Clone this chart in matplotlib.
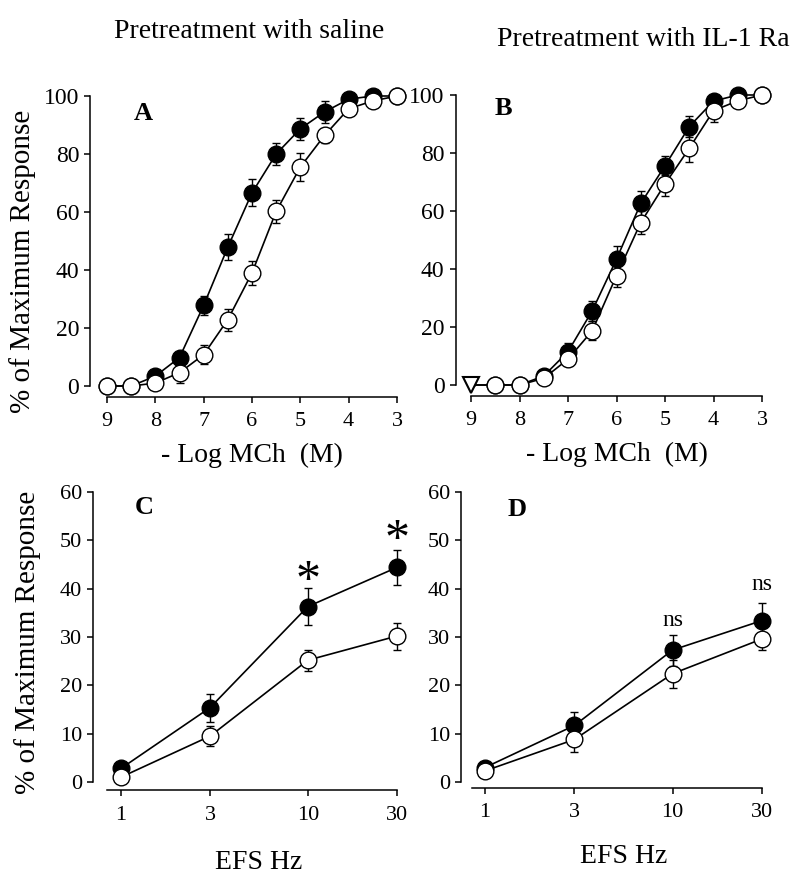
import matplotlib.pyplot as plt

plt.rcParams['font.family'] = ['Liberation Serif', 'DejaVu Serif']

# - log [MCh] (M)
log_mch = [9, 8.5, 8, 7.5, 7, 6.5, 6, 5.5, 5, 4.5, 4, 3.5, 3]

# panel A - saline
a_filled = [0, 0, 3.4, 9.8, 27.8, 47.9, 66.6, 80.0, 88.7, 94.5, 98.9, 100, 100]
a_filled_err = [0, 0, 1.0, 2.0, 3.4, 4.4, 4.7, 3.9, 3.7, 3.7, 1.0, 0.5, 0]
a_open = [0, 0, 1.0, 4.6, 10.8, 22.9, 39.0, 60.2, 75.5, 86.4, 95.6, 98.3, 100]
a_open_err = [0, 0, 1.0, 3.5, 3.3, 3.8, 4.0, 4.0, 4.8, 2.6, 1.5, 1.5, 0]

# panel B - IL-1 Ra
b_filled = [0, 0, 0, 3.1, 11.5, 25.6, 43.4, 62.6, 75.6, 89.1, 97.9, 100, 100]
b_filled_err = [0, 0, 0, 1.0, 2.9, 3.4, 4.5, 4.2, 3.3, 3.7, 1.0, 0.5, 0]
b_open = [0, 0, 0, 2.3, 8.9, 18.7, 37.7, 56.0, 69.3, 81.6, 94.6, 98.0, 100]
b_open_err = [0, 0, 0, 1.0, 2.3, 3.2, 4.0, 3.9, 4.1, 4.6, 3.8, 2.3, 0]
b_tri_x = [9]
b_tri_y = [0]

# EFS frequencies
efs_hz = [1, 3, 10, 30]
efs_labels = ['1', '3', '10', '30']

c_filled = [2.8, 15.4, 36.3, 44.4]
c_filled_err = [0.5, 2.9, 3.9, 3.7]
c_open = [1.0, 9.5, 25.2, 30.2]
c_open_err = [0.4, 2.0, 2.2, 2.8]

d_filled = [3.0, 11.7, 27.3, 33.4]
d_filled_err = [0.5, 2.7, 3.2, 3.6]
d_open = [2.3, 8.8, 22.4, 29.6]
d_open_err = [0.5, 2.6, 2.9, 2.3]

W, H = 800, 881
fig = plt.figure(figsize=(W / 100, H / 100), dpi=100)


def add_axes_px(x0, y0, x1, y1):
    # pixel box -> figure fraction
    return fig.add_axes([x0 / W, 1 - y1 / H, (x1 - x0) / W, (y1 - y0) / H])


def style_axes(ax, left_off, bottom_off, xbounds, ybounds):
    for s in ['top', 'right']:
        ax.spines[s].set_visible(False)
    ax.spines['left'].set_position(('outward', left_off))
    ax.spines['bottom'].set_position(('outward', bottom_off))
    ax.spines['left'].set_bounds(*ybounds)
    ax.spines['bottom'].set_bounds(*xbounds)
    for s in ['left', 'bottom']:
        ax.spines[s].set_linewidth(1.1)
    ax.tick_params(direction='out', length=4, width=1.1, labelsize=16, pad=4)
    ax.tick_params(axis='x', pad=7)
    ax.patch.set_visible(False)


def draw_pair(ax, x, yf, ef, yo, eo, markevery=None):
    kw = dict(color='black', lw=1.2, elinewidth=1.0, capsize=3, capthick=1.0,
              markersize=12, markeredgewidth=1.0, clip_on=False, markevery=markevery)
    ax.errorbar(x, yf, yerr=ef, fmt='-o', markerfacecolor='black', zorder=3, **kw)
    ax.errorbar(x, yo, yerr=eo, fmt='-o', markerfacecolor='white', zorder=4, **kw)


# ---- A
axA = add_axes_px(107, 96, 397, 386)
draw_pair(axA, log_mch, a_filled, a_filled_err, a_open, a_open_err)
axA.set_xlim(9, 3)
axA.set_ylim(0, 100)
axA.set_xticks([9, 8, 7, 6, 5, 4, 3])
axA.set_yticks([0, 20, 40, 60, 80, 100])
style_axes(axA, 12, 8, (9, 3), (0, 100))
axA.tick_params(axis='y', labelsize=17)
axA.set_xlabel('- Log MCh  (M)', fontsize=20, labelpad=8)
axA.text(8.25, 94, 'A', fontsize=19, fontweight='bold', ha='center', va='center')

# ---- B
axB = add_axes_px(471, 95, 762, 385)
draw_pair(axB, log_mch, b_filled, b_filled_err, b_open, b_open_err,
          markevery=slice(1, None))
axB.plot(b_tri_x, b_tri_y, 'v', color='black', markerfacecolor='white',
         markersize=12, markeredgewidth=1.5, clip_on=False, zorder=5)
axB.set_xlim(9, 3)
axB.set_ylim(0, 100)
axB.set_xticks([9, 8, 7, 6, 5, 4, 3])
axB.set_yticks([0, 20, 40, 60, 80, 100])
style_axes(axB, 11, 8, (9, 3), (0, 100))
axB.tick_params(axis='y', labelsize=17)
axB.set_xlabel('- Log MCh  (M)', fontsize=20, labelpad=8)
axB.text(8.34, 95.5, 'B', fontsize=19, fontweight='bold', ha='center', va='center')

# ---- C
axC = add_axes_px(121, 492, 397, 782)
draw_pair(axC, efs_hz, c_filled, c_filled_err, c_open, c_open_err)
axC.set_xscale('log')
axC.set_xlim(1, 30)
axC.set_ylim(0, 60)
axC.set_xticks(efs_hz)
axC.set_xticklabels(efs_labels)
axC.minorticks_off()
axC.set_yticks([0, 10, 20, 30, 40, 50, 60])
style_axes(axC, 20, 6, (0.84, 30), (0, 60))
axC.set_xlabel('EFS Hz', fontsize=20, labelpad=18)
axC.text(1.34, 56.7, 'C', fontsize=19, fontweight='bold', ha='center', va='center')
axC.text(10, 41.5, '*', fontsize=36, ha='center', va='center')
axC.text(30, 50.0, '*', fontsize=36, ha='center', va='center', clip_on=False)

# ---- D
axD = add_axes_px(485, 492, 762, 782)
draw_pair(axD, efs_hz, d_filled, d_filled_err, d_open, d_open_err)
axD.set_xscale('log')
axD.set_xlim(1, 30)
axD.set_ylim(0, 60)
axD.set_xticks(efs_hz)
axD.set_xticklabels(efs_labels)
axD.minorticks_off()
axD.set_yticks([0, 10, 20, 30, 40, 50, 60])
style_axes(axD, 17, 4, (0.85, 30), (0, 60))
axD.set_xlabel('EFS Hz', fontsize=20, labelpad=16)
axD.text(1.48, 56.3, 'D', fontsize=19, fontweight='bold', ha='center', va='center')
axD.text(10, 33.5, 'ns', fontsize=17, ha='center', va='center')
axD.text(30, 40.8, 'ns', fontsize=17, ha='center', va='center')

# titles and shared y labels
fig.text(249 / W, 1 - 31 / H, 'Pretreatment with saline', fontsize=20,
         ha='center', va='center')
fig.text(643 / W, 1 - 40 / H, 'Pretreatment with IL-1 Ra', fontsize=20,
         ha='center', va='center')
fig.text(23 / W, 1 - 261 / H, '% of Maximum Response', fontsize=21,
         rotation=90, ha='center', va='center')
fig.text(28 / W, 1 - 642 / H, '% of Maximum Response', fontsize=21,
         rotation=90, ha='center', va='center')

fig.savefig('out.png', dpi=100)
